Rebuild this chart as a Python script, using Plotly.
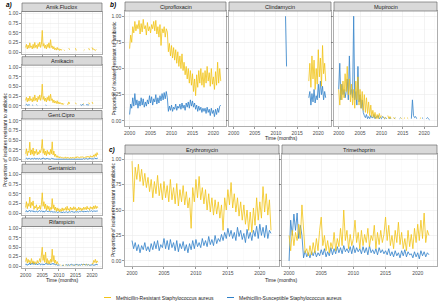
import plotly.graph_objects as go

W, H = 440, 307
N = None

# quarterly time points, 2000 Q1 .. 2021 Q4
years = [2000 + q / 4 for q in range(88)]

# ---------------- panel a ----------------
amikfluclox_mrsa = [
    0.12, 0.20, 0.08, 0.18,  0.10, 0.24, 0.12, 0.16,  0.08, 0.20, 0.10, 0.25,
    0.12, 0.18, 0.09, 0.22,  0.14, 0.26, 0.12, 0.20,  0.56, 0.15, 0.22, 0.10,
    0.18, 0.08, 0.20, 0.12,  0.24, 0.10, 0.32, 0.12,  0.16, 0.08, 0.14, 0.06,
    0.10, 0.05, 0.12, 0.06,  0.09, 0.04, 0.08, 0.05,  0.07, N, 0.06, 0.04,
    N, N, N, N,  0.10, 0.06, N, N,  N, N, N, N,
    0.10, 0.04, N, N,  N, N, N, N,  N, N, 0.04, 0.06,
    N, N, N, N,  0.10, 0.05, N, N,  0.12, 0.06, 0.08, 0.05,
    0.04, 0.07, N, N,
]
amikfluclox_mssa = [
    N, N, N, N,  N, N, N, N,  N, N, N, N,  N, N, N, N,  N, N, N, N,  N, N, N, N,
    N, N, N, N,  N, N, N, N,  N, N, N, N,  N, N, N, N,  N, N, N, N,  N, N, N, N,
    N, N, N, N,  N, N, N, N,  N, N, N, N,  N, N, N, N,  N, N, N, N,  N, N, N, N,
    N, N, N, N,  N, N, N, N,  N, N, N, N,  N, N, N, N,
]
amikacin_mrsa = [
    0.14, 0.22, 0.10, 0.20,  0.12, 0.25, 0.14, 0.18,  0.10, 0.22, 0.12, 0.28,
    0.14, 0.20, 0.10, 0.24,  0.16, 0.28, 0.14, 0.22,  0.56, 0.16, 0.24, 0.12,
    0.20, 0.10, 0.22, 0.14,  0.26, 0.12, 0.30, 0.14,  0.18, 0.08, 0.15, 0.07,
    0.12, 0.06, 0.13, 0.05,  0.10, 0.05, 0.08, 0.04,  0.07, 0.03, 0.06, N,
    N, N, 0.05, 0.03,  0.10, 0.05, N, N,  N, N, N, N,
    0.08, 0.04, N, N,  N, N, N, N,  N, 0.04, 0.06, N,
    N, N, N, N,  0.08, 0.04, N, N,  0.10, 0.05, N, N,
    N, N, N, N,
]
amikacin_mssa = [
    0.02, 0.04, 0.01, 0.03,  0.01, 0.03, N, N,  0.02, 0.01, N, N,
    N, 0.03, 0.01, N,  N, N, N, N,  N, N, N, N,
    0.02, 0.01, N, N,  N, N, N, N,  N, N, N, N,
    N, N, N, N,  N, N, N, N,  N, N, N, N,
    N, N, N, N,  N, N, N, N,  N, N, N, N,
    N, N, N, N,  N, N, 0.03, 0.01,  0.02, 0.04, 0.01, N,
    N, 0.02, 0.04, 0.01,  0.03, N, N, N,  N, N, N, N,
    N, N, N, N,
]
gentcipro_mrsa = [
    0.15, 0.28, 0.10, 0.22,  0.18, 0.45, 0.12, 0.25,  0.14, 0.30, 0.10, 0.22,
    0.16, 0.26, 0.12, 0.20,  0.14, 0.24, 0.18, 0.28,  0.52, 0.16, 0.28, 0.12,
    0.22, 0.10, 0.24, 0.14,  0.20, 0.12, 0.26, 0.15,  0.46, 0.12, 0.22, 0.08,
    0.14, 0.06, 0.10, 0.05,  0.08, 0.04, 0.07, 0.05,  0.06, 0.03, 0.05, 0.04,
    0.07, 0.03, 0.06, 0.04,  0.05, 0.03, 0.06, 0.03,  0.06, 0.04, 0.05, 0.03,
    0.07, 0.04, 0.08, 0.05,  0.06, 0.04, 0.07, 0.05,  0.08, 0.05, 0.06, 0.04,
    0.07, 0.05, 0.09, 0.06,  0.08, 0.05, 0.10, 0.06,  0.09, 0.06, 0.12, 0.08,
    0.15, 0.08, 0.18, 0.12,
]
gentcipro_mssa = [
    0.02, 0.04, 0.01, 0.03,  0.02, 0.03, 0.01, 0.02,  0.03, 0.01, 0.02, 0.04,
    0.01, 0.02, 0.03, 0.01,  0.02, 0.03, 0.01, 0.02,  0.03, 0.02, 0.04, 0.01,
    0.02, 0.01, 0.03, 0.02,  0.01, 0.02, 0.01, 0.03,  0.02, 0.01, 0.02, 0.01,
    0.01, 0.02, 0.01, 0.01,  0.01, 0.02, 0.01, 0.02,  0.02, 0.01, 0.01, 0.02,
    0.01, 0.02, 0.01, 0.01,  0.02, 0.01, 0.02, 0.01,  0.01, 0.02, 0.01, 0.02,
    0.02, 0.01, 0.02, 0.01,  0.01, 0.02, 0.01, 0.02,  0.02, 0.01, 0.03, 0.01,
    0.02, 0.03, 0.01, 0.02,  0.01, 0.02, 0.03, 0.02,  0.02, 0.03, 0.02, 0.04,
    0.03, 0.02, 0.04, 0.03,
]
gentamicin_mrsa = [
    0.15, 0.30, 0.12, 0.25,  0.18, 0.42, 0.14, 0.28,  0.20, 0.32, 0.10, 0.18,
    0.14, 0.22, 0.08, 0.16,  0.12, 0.20, 0.10, 0.24,  0.53, 0.18, 0.30, 0.12,
    0.24, 0.08, 0.20, 0.10,  0.18, 0.06, 0.15, 0.10,  0.38, 0.12, 0.22, 0.08,
    0.16, 0.05, 0.14, 0.06,  0.12, 0.04, 0.10, 0.05,  0.14, 0.06, 0.12, 0.08,
    0.15, 0.07, 0.18, 0.08,  0.12, 0.06, 0.16, 0.09,  0.14, 0.08, 0.17, 0.10,
    0.15, 0.06, 0.12, 0.08,  0.16, 0.09, 0.14, 0.07,  0.13, 0.08, 0.16, 0.10,
    0.15, 0.09, 0.18, 0.11,  0.14, 0.08, 0.17, 0.12,  0.16, 0.10, 0.19, 0.12,
    0.20, 0.12, 0.18, 0.14,
]
gentamicin_mssa = [
    0.04, 0.07, 0.03, 0.06,  0.05, 0.08, 0.04, 0.06,  0.05, 0.07, 0.03, 0.05,
    0.04, 0.06, 0.03, 0.05,  0.05, 0.07, 0.04, 0.06,  0.04, 0.06, 0.03, 0.05,
    0.05, 0.07, 0.04, 0.06,  0.04, 0.06, 0.03, 0.05,  0.03, 0.05, 0.02, 0.04,
    0.03, 0.04, 0.02, 0.03,  0.02, 0.04, 0.03, 0.02,  0.03, 0.02, 0.04, 0.02,
    0.03, 0.04, 0.02, 0.03,  0.02, 0.04, 0.03, 0.05,  0.03, 0.05, 0.02, 0.04,
    0.04, 0.03, 0.05, 0.03,  0.03, 0.05, 0.04, 0.06,  0.04, 0.06, 0.03, 0.05,
    0.05, 0.04, 0.06, 0.04,  0.04, 0.06, 0.05, 0.07,  0.05, 0.04, 0.06, 0.05,
    0.06, 0.05, 0.07, 0.05,
]
rifampicin_mrsa = [
    0.12, 0.22, 0.08, 0.18,  0.10, 0.15, 0.06, 0.20,  0.08, 0.14, 0.05, 0.12,
    0.10, 0.06, 0.15, 0.08,  0.12, 0.20, 0.10, 0.25,  0.50, 0.15, 0.30, 0.10,
    0.37, 0.08, 0.20, 0.06,  0.15, 0.06, 0.18, 0.10,  0.45, 0.12, 0.28, 0.08,
    0.16, 0.05, 0.12, 0.06,  0.05, N, 0.03, 0.02,  N, 0.03, 0.02, N,
    0.03, 0.02, N, 0.04,  0.02, N, N, 0.03,  0.02, N, 0.03, 0.02,
    N, 0.04, 0.02, N,  0.03, 0.02, N, N,  0.04, 0.03, 0.05, N,
    0.03, 0.05, 0.02, N,  0.04, 0.03, N, N,  0.08, 0.05, 0.15, 0.10,
    0.18, 0.08, 0.14, 0.10,
]
rifampicin_mssa = [
    0.03, 0.06, 0.02, 0.05,  0.04, 0.09, 0.03, 0.07,  0.05, 0.10, 0.04, 0.08,
    0.04, 0.08, 0.03, 0.06,  0.05, 0.07, 0.03, 0.05,  0.04, 0.06, 0.03, 0.05,
    0.05, 0.08, 0.04, 0.07,  0.04, 0.07, 0.03, 0.06,  0.05, 0.08, 0.04, 0.06,
    0.03, 0.05, 0.02, 0.04,  0.02, 0.03, N, N,  0.02, 0.03, 0.02, N,
    0.03, 0.04, 0.02, 0.03,  0.04, 0.02, 0.03, 0.05,  0.03, 0.04, 0.02, 0.03,
    0.04, 0.03, 0.05, 0.02,  0.03, 0.04, 0.02, 0.05,  0.04, 0.03, 0.05, 0.03,
    0.03, 0.05, 0.02, 0.04,  0.04, 0.02, 0.03, 0.02,  0.03, 0.04, 0.02, 0.03,
    0.04, 0.03, 0.05, 0.03,
]

# ---------------- panel b ----------------
ciprofloxacin_mrsa = [
    0.69, 0.82, 0.75, 0.90,  0.84, 0.95, 0.86, 0.92,  0.88, 0.96, 0.83, 0.93,
    0.85, 0.97, 0.88, 0.91,  0.82, 0.94, 0.86, 0.90,  0.84, 0.92, 0.88, 0.95,
    0.86, 0.96, 0.83, 0.90,  0.80, 0.92, 0.72, 0.88,  0.84, 0.90, 0.80, 0.88,
    0.85, 0.66, 0.74, 0.62,  0.72, 0.60, 0.70, 0.58,  0.68, 0.55, 0.66, 0.52,
    0.62, 0.50, 0.64, 0.48,  0.56, 0.44, 0.52, 0.40,  0.50, 0.36, 0.48, 0.34,
    0.45, 0.28, 0.40, 0.24,  0.44, 0.32, 0.48, 0.36,  0.50, 0.34, 0.46, 0.32,
    0.48, 0.36, 0.52, 0.38,  0.46, 0.33, 0.50, 0.35,  0.42, 0.30, 0.47, 0.34,
    0.56, 0.36, 0.50, 0.38,
]
ciprofloxacin_mssa = [
    0.06, 0.16, 0.12, 0.22,  0.14, 0.26, 0.15, 0.20,  0.12, 0.19, 0.14, 0.22,
    0.15, 0.21, 0.13, 0.18,  0.14, 0.20, 0.16, 0.24,  0.17, 0.23, 0.15, 0.21,
    0.18, 0.25, 0.16, 0.22,  0.17, 0.24, 0.19, 0.26,  0.20, 0.27, 0.21, 0.28,
    0.22, 0.09, 0.14, 0.10,  0.15, 0.09, 0.13, 0.11,  0.16, 0.10, 0.14, 0.12,
    0.16, 0.11, 0.17, 0.12,  0.15, 0.10, 0.17, 0.13,  0.18, 0.12, 0.20, 0.14,
    0.19, 0.13, 0.17, 0.11,  0.15, 0.09, 0.14, 0.10,  0.13, 0.08, 0.12, 0.09,
    0.12, 0.07, 0.13, 0.08,  0.11, 0.05, 0.12, 0.07,  0.10, 0.04, 0.11, 0.06,
    0.12, 0.08, 0.14, 0.15,
]
clindamycin_mrsa = [
    N, N, N, N,  N, N, N, N,  N, N, N, N,  N, N, N, N,  N, N, N, N,  N, N, N, N,
    N, N, N, N,  N, N, N, N,  N, N, N, N,  N, N, N, N,  N, N, N, N,  N, N, N, N,
    N, N, N, N,  N, N, N, N,  N, N, N, N,  N, N, N, N,  N, N, N, N,
    N, N, N, 0.38,  0.55, 0.32, 0.62, 0.40,  0.58, 0.30, 0.50, 0.35,
    0.68, 0.42, 0.60, 0.33,  0.72, 0.45, 0.55, 0.38,
]
clindamycin_mssa = [
    N, N, N, N,  N, N, N, N,  N, N, N, N,  N, N, N, N,  N, N, N, N,  N, N, N, N,
    N, N, N, N,  N, N, N, N,  N, N, N, N,  N, N, N, N,  N, N, N, N,  N, N, N, N,
    N, 1.00, 0.52, N,  N, N, N, N,  N, N, N, N,  N, N, N, N,  N, N, N, N,
    N, N, N, 0.22,  0.28, 0.15, 0.26, 0.18,  0.30, 0.17, 0.24, 0.20,
    0.35, 0.22, 0.38, 0.25,  0.33, 0.20, 0.28, 0.22,
]
mupirocin_mrsa = [
    0.30, 0.15, 0.35, 0.20,  0.38, 0.22, 0.45, 0.28,  0.52, 0.25, 0.40, 0.18,
    0.35, 0.15, 0.30, 0.12,  0.38, 0.20, 0.42, 0.15,  0.30, 0.12, 0.28, 0.10,
    0.25, 0.08, 0.22, 0.07,  0.18, 0.05, 0.15, 0.04,  0.10, 0.03, 0.08, 0.02,
    0.06, 0.02, 0.07, 0.03,  0.05, N, 0.04, 0.02,  0.03, N, 0.05, 0.02,
    0.04, 0.02, N, 0.03,  0.02, 0.02, N, N,  N, N, 0.03, 0.02,
    N, 0.02, 0.03, N,  0.03, 0.02, N, 0.02,  N, N, N, N,
    N, N, N, N,  0.02, 0.03, N, N,  N, N, N, N,
    N, N, N, N,
]
mupirocin_mssa = [
    0.30, 0.55, 0.20, 0.35,  0.25, 0.30, 0.22, 0.28,  0.40, 0.20, 0.62, 0.25,
    0.30, 0.22, 1.00, 0.20,  0.28, 0.15, 0.52, 0.18,  0.25, 0.12, 0.20, 0.08,
    0.05, 0.03, 0.06, 0.02,  0.04, 0.02, 0.05, 0.03,  0.03, 0.06, 0.02, 0.04,
    0.03, 0.05, 0.02, 0.03,  0.02, 0.04, 0.03, 0.02,  0.03, 0.02, N, 0.03,
    0.02, 0.03, N, N,  0.02, 0.03, N, N,  N, 0.02, 0.03, N,
    N, N, N, N,  N, N, N, N,  0.02, 0.20, 0.05, 0.03,
    0.04, 0.02, N, N,  N, N, 0.03, 0.02,  N, N, 0.02, 0.03,
    0.02, 0.01, N, N,
]

# ---------------- panel c ----------------
erythromycin_mrsa = [
    0.98, 0.58, 0.92, 0.80,  0.95, 0.78, 0.90, 0.74,  0.86, 0.72, 0.82, 0.68,
    0.80, 0.62, 0.78, 0.66,  0.84, 0.64, 0.76, 0.60,  0.78, 0.62, 0.74, 0.58,
    0.80, 0.60, 0.72, 0.56,  0.76, 0.54, 0.70, 0.58,  0.74, 0.55, 0.68, 0.52,
    0.62, 0.32, 0.72, 0.58,  0.80, 0.62, 0.83, 0.60,  0.72, 0.56, 0.70, 0.50,
    0.66, 0.48, 0.62, 0.45,  0.60, 0.46, 0.58, 0.42,  0.55, 0.30, 0.62, 0.50,
    0.70, 0.55, 0.77, 0.52,  0.66, 0.48, 0.62, 0.44,  0.58, 0.40, 0.55, 0.36,
    0.50, 0.30, 0.48, 0.28,  0.52, 0.35, 0.62, 0.40,  0.58, 0.42, 0.73, 0.48,
    0.66, 0.45, 0.60, 0.30,
]
erythromycin_mssa = [
    0.20, 0.12, 0.18, 0.10,  0.16, 0.08, 0.15, 0.11,  0.18, 0.10, 0.14, 0.09,
    0.17, 0.11, 0.19, 0.12,  0.20, 0.10, 0.16, 0.13,  0.22, 0.12, 0.20, 0.11,
    0.21, 0.13, 0.18, 0.10,  0.20, 0.09, 0.17, 0.12,  0.19, 0.10, 0.16, 0.08,
    0.17, 0.11, 0.20, 0.12,  0.21, 0.14, 0.18, 0.13,  0.22, 0.15, 0.20, 0.14,
    0.24, 0.16, 0.21, 0.15,  0.25, 0.17, 0.22, 0.19,  0.26, 0.20, 0.28, 0.22,
    0.32, 0.24, 0.30, 0.22,  0.28, 0.20, 0.33, 0.24,  0.30, 0.21, 0.27, 0.18,
    0.31, 0.22, 0.28, 0.20,  0.30, 0.24, 0.34, 0.22,  0.36, 0.25, 0.33, 0.23,
    0.35, 0.22, 0.30, 0.27,
]
trimethoprim_mrsa = [
    0.25, 0.10, 0.30, 0.15,  0.28, 0.20, 0.36, 0.22,  0.55, 0.30, 0.08, 0.12,
    0.05, 0.15, 0.06, 0.18,  0.08, 0.22, 0.10, 0.30,  0.43, 0.15, 0.25, 0.10,
    0.20, 0.08, 0.18, 0.12,  0.28, 0.10, 0.22, 0.14,  0.32, 0.15, 0.50, 0.20,
    0.30, 0.12, 0.26, 0.15,  0.22, 0.40, 0.18, 0.28,  0.12, 0.30, 0.15, 0.26,
    0.18, 0.32, 0.14, 0.25,  0.20, 0.35, 0.12, 0.28,  0.16, 0.30, 0.18, 0.26,
    0.43, 0.20, 0.35, 0.15,  0.25, 0.12, 0.30, 0.18,  0.38, 0.16, 0.28, 0.12,
    0.22, 0.10, 0.30, 0.14,  0.26, 0.12, 0.32, 0.18,  0.36, 0.20, 0.40, 0.22,
    0.47, 0.18, 0.30, 0.25,
]
trimethoprim_mssa = [
    0.00, 0.40, 0.25, 0.46,  0.30, 0.47, 0.22, 0.35,  0.25, 0.03, 0.10, 0.04,
    0.08, 0.03, 0.09, 0.05,  0.10, 0.04, 0.08, 0.05,  0.11, 0.06, 0.12, 0.04,
    0.09, 0.05, 0.13, 0.06,  0.12, 0.07, 0.14, 0.08,  0.13, 0.07, 0.15, 0.09,
    0.12, 0.08, 0.14, 0.07,  0.15, 0.08, 0.13, 0.09,  0.12, 0.07, 0.14, 0.08,
    0.13, 0.06, 0.15, 0.08,  0.11, 0.07, 0.12, 0.06,  0.13, 0.08, 0.11, 0.07,
    0.10, 0.06, 0.12, 0.05,  0.09, 0.04, 0.10, 0.05,  0.08, 0.03, 0.10, 0.05,
    0.11, 0.04, 0.09, 0.06,  0.07, 0.03, 0.09, 0.04,  0.08, 0.02, 0.10, 0.05,
    0.09, 0.04, 0.08, 0.06,
]

x_ticks = [2000, 2005, 2010, 2015, 2020]
x_minor = [2002.5, 2007.5, 2012.5, 2017.5, 2022.5]
y_ticks = [0, 0.25, 0.5, 0.75, 1.0]
y_ticklabels = ["0.00", "0.25", "0.50", "0.75", "1.00"]
y_minor = [0.125, 0.375, 0.625, 0.875]

MRSA_COLOR = "#F2C318"
MSSA_COLOR = "#2F80C8"
MRSA_NAME = "Methicillin-Resistant Staphylococcus aureus"
MSSA_NAME = "Methicillin-Susceptible Staphylococcus aureus"

# layout boxes in pixels: (name, mrsa, mssa, x0, x1, plot_y0, plot_y1, strip_y0, xlabels, ylabels)
panels = [
    ("Amik.Fluclox", amikfluclox_mrsa, amikfluclox_mssa, 22, 102, 11.5, 54, 3, False, True),
    ("Amikacin", amikacin_mrsa, amikacin_mssa, 22, 102, 65.2, 107.7, 56.7, False, True),
    ("Gent.Cipro", gentcipro_mrsa, gentcipro_mssa, 22, 102, 119, 161.5, 110.5, False, True),
    ("Gentamicin", gentamicin_mrsa, gentamicin_mssa, 22, 102, 172.7, 215.2, 164.2, False, True),
    ("Rifampicin", rifampicin_mrsa, rifampicin_mssa, 22, 102, 226.5, 268, 218, True, True),
    ("Ciprofloxacin", ciprofloxacin_mrsa, ciprofloxacin_mssa, 125, 226, 11, 126, 2, True, True),
    ("Clindamycin", clindamycin_mrsa, clindamycin_mssa, 229, 331, 11, 126, 2, True, False),
    ("Mupirocin", mupirocin_mrsa, mupirocin_mssa, 334, 437, 11, 126, 2, True, False),
    ("Erythromycin", erythromycin_mrsa, erythromycin_mssa, 125, 279, 154, 266, 145, True, True),
    ("Trimethoprim", trimethoprim_mrsa, trimethoprim_mssa, 282, 437, 154, 266, 145, True, False),
]

FONT = "Liberation Sans, Arial, sans-serif"
fig = go.Figure()
shapes = []
annotations = []
layout_axes = {}

for i, (name, mrsa, mssa, x0, x1, py0, py1, sy0, xl, yl) in enumerate(panels, start=1):
    xa = "x" if i == 1 else f"x{i}"
    ya = "y" if i == 1 else f"y{i}"
    fig.add_trace(go.Scatter(x=years, y=mssa, mode="lines", xaxis=xa, yaxis=ya,
                             line=dict(color=MSSA_COLOR, width=0.9), opacity=0.9,
                             showlegend=False, name=MSSA_NAME))
    fig.add_trace(go.Scatter(x=years, y=mrsa, mode="lines", xaxis=xa, yaxis=ya,
                             line=dict(color=MRSA_COLOR, width=0.9), opacity=0.9,
                             showlegend=False, name=MRSA_NAME))
    layout_axes[f"xaxis{i}"] = dict(
        domain=[x0 / W, x1 / W], anchor=ya, range=[1998.9, 2023.0],
        tickvals=x_ticks, ticktext=[str(t) for t in x_ticks], showticklabels=xl,
        showgrid=True, gridcolor="#EBEBEB", gridwidth=0.6,
        minor=dict(tickvals=x_minor, showgrid=True, gridcolor="#F5F5F5", gridwidth=0.4, ticks=""),
        showline=True, mirror=True, linecolor="#8C8C8C", linewidth=0.7,
        ticks="outside", ticklen=2, tickwidth=0.6, tickcolor="#555555",
        tickfont=dict(size=5, color="#4D4D4D", family=FONT), zeroline=False,
    )
    layout_axes[f"yaxis{i}"] = dict(
        domain=[1 - py1 / H, 1 - py0 / H], anchor=xa, range=[-0.05, 1.05],
        tickvals=y_ticks, ticktext=y_ticklabels, showticklabels=yl,
        showgrid=True, gridcolor="#EBEBEB", gridwidth=0.6,
        minor=dict(tickvals=y_minor, showgrid=True, gridcolor="#F5F5F5", gridwidth=0.4, ticks=""),
        showline=True, mirror=True, linecolor="#8C8C8C", linewidth=0.7,
        ticks="outside", ticklen=2, tickwidth=0.6, tickcolor="#555555",
        tickfont=dict(size=5, color="#4D4D4D", family=FONT), zeroline=False,
    )
    # facet strip
    shapes.append(dict(type="rect", xref="paper", yref="paper",
                       x0=x0 / W, x1=x1 / W, y0=1 - py0 / H, y1=1 - sy0 / H,
                       fillcolor="#D9D9D9", line=dict(color="#6E6E6E", width=0.7), layer="above"))
    annotations.append(dict(text=name, xref="paper", yref="paper",
                            x=(x0 + x1) / 2 / W, y=1 - (sy0 + py0) / 2 / H,
                            showarrow=False, xanchor="center", yanchor="middle",
                            font=dict(size=5.5, color="#1A1A1A", family=FONT)))

# panel letters
for lab, px, py in [("a)", 4, 5), ("b)", 108, 5), ("c)", 107, 150)]:
    annotations.append(dict(text=f"<b><i>{lab}</i></b>", xref="paper", yref="paper",
                            x=px / W, y=1 - py / H, showarrow=False,
                            xanchor="left", yanchor="middle",
                            font=dict(size=6.5, color="#000000", family=FONT)))

# axis titles
YT = "Proportion of isolates resistant to antibiotic"
for px, py in [(5, 140), (113, 68.5), (113, 210)]:
    annotations.append(dict(text=YT, xref="paper", yref="paper", x=px / W, y=1 - py / H,
                            textangle=-90, showarrow=False, xanchor="center", yanchor="middle",
                            font=dict(size=5, color="#1A1A1A", family=FONT)))
for px, py in [(62, 280), (281, 138), (281, 280)]:
    annotations.append(dict(text="Time (months)", xref="paper", yref="paper", x=px / W, y=1 - py / H,
                            showarrow=False, xanchor="center", yanchor="middle",
                            font=dict(size=5, color="#1A1A1A", family=FONT)))

# legend (drawn manually)
for color, name, lx in [(MRSA_COLOR, MRSA_NAME, 104), (MSSA_COLOR, MSSA_NAME, 227)]:
    shapes.append(dict(type="line", xref="paper", yref="paper",
                       x0=lx / W, x1=(lx + 7) / W, y0=1 - 297.5 / H, y1=1 - 297.5 / H,
                       line=dict(color=color, width=1)))
    annotations.append(dict(text=name, xref="paper", yref="paper", x=(lx + 9.5) / W, y=1 - 297.5 / H,
                            showarrow=False, xanchor="left", yanchor="middle",
                            font=dict(size=5, color="#1A1A1A", family=FONT)))

fig.update_layout(
    width=W, height=H, margin=dict(l=0, r=0, t=0, b=0, autoexpand=False),
    paper_bgcolor="white", plot_bgcolor="white",
    showlegend=False, shapes=shapes, annotations=annotations,
    font=dict(family=FONT, size=5), hovermode=False,
    **layout_axes,
)

fig.write_html(
    "out.html",
    config={"displayModeBar": False, "staticPlot": True},
    post_script="document.body.style.margin='0';document.body.style.padding='0';",
)
